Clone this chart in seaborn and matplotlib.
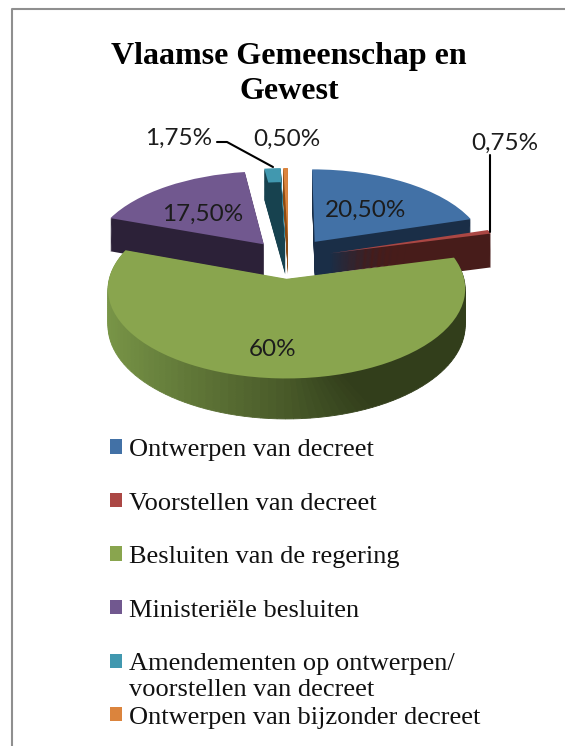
import numpy as np
import seaborn as sns
import matplotlib
matplotlib.use("Agg")
import matplotlib.pyplot as plt
from matplotlib.patches import Patch, Wedge
from matplotlib.transforms import Transform

# data
categories = ["Ontwerpen van decreet", "Voorstellen van decreet", "Besluiten van de regering",
              "Ministeriële besluiten", "Amendementen op ontwerpen/", "Ontwerpen van bijzonder decreet"]
shares = [20.5, 0.75, 60, 17.5, 1.75, 0.5]
share_labels = ["20,50%", "0,75%", "60%", "17,50%", "1,75%", "0,50%"]
top_colors = ["#4271a6", "#ab4744", "#89a54e", "#71588f", "#4198af", "#db843d"]
wall_colors = ["#1a2e47", "#471c1a", "#3a4a20", "#2c2138", "#17424f", "#8a4a12"]

sns.set_theme(style="white")
plt.rcParams["font.family"] = ["Liberation Serif", "DejaVu Serif"]


# fake 3d: unit pie -> pixels, with perspective and a drop for the side wall
class Tilt(Transform):
    input_dims = 2
    output_dims = 2
    is_separable = False

    def __init__(self, drop=0):
        super().__init__()
        self.drop = drop

    def transform_non_affine(self, values):
        values = np.asarray(values)
        w = 1 / (1 + 0.11 * values[:, 1])
        px = 288.5 + 173 * values[:, 0] * w
        py = 259 - 84 * values[:, 1] * w + self.drop * w
        return np.column_stack([px, py])


fig = plt.figure(figsize=(5.65, 7.46), dpi=100)
ax = fig.add_axes([0, 0, 1, 1])
explode = [0.26, 0.25, 0.23, 0.23, 0.23, 0.23]
order_z = [3, 4, 6, 2, 1, 0]  # painter's order per slice
GREEN = 2
TEAL = 4


def draw_pie(colors, drop, z):
    wedges, _ = ax.pie(shares, explode=explode, colors=colors, startangle=90, counterclock=False,
                       wedgeprops={"linewidth": 0})
    for i, w in enumerate(wedges):
        w.set_transform(Tilt(drop) + ax.transData)
        w.set_zorder(order_z[i] + z)
    return wedges


# side walls, layer by layer
for drop in range(35, 0, -1):
    layer = draw_pie(wall_colors, drop, 1)
    layer[GREEN].set_visible(False)
    # teal slice: the dark wall covers most of its narrow top
    if drop >= 16:
        layer[TEAL].set_zorder(order_z[TEAL] + 1.8)

top = draw_pie(top_colors, 0, 1.5)

# green wall gets the light to dark shading
g = top[GREEN]
edges = np.linspace(g.theta1, g.theta2, 91)
wall_left = np.array(matplotlib.colors.to_rgb("#7a9748"))
wall_right = np.array(matplotlib.colors.to_rgb("#323e1b"))
for a, b in zip(edges[:-1], edges[1:]):
    mid = np.cos(np.radians((a + b) / 2))
    t = np.clip((mid + 1) / 1.45, 0, 1)
    c = wall_left * (1 - t) + wall_right * t
    for drop in range(1, 37, 2):
        ax.add_patch(Wedge(g.center, g.r, a, b, facecolor=c, edgecolor=c, linewidth=0.6,
                           transform=Tilt(drop) + ax.transData, zorder=order_z[GREEN] + 1))

ax.set_aspect("auto")
ax.set_xlim(0, 565)
ax.set_ylim(746, 0)
ax.set_axis_off()

# outer frame of the slide
ax.plot([12, 12, 565], [746, 8.5, 8.5], color="#8f8f8f", lw=1.5, zorder=1)

# title
ax.text(289, 74, "Vlaamse Gemeenschap en\nGewest", ha="center", va="center", fontsize=23,
        fontweight="bold", color="black", linespacing=1.3)

# data labels
label_xy = [(366, 210), (505, 143), (273, 350), (203, 214), (179, 138), (287, 139)]
for txt, (x, y) in zip(share_labels, label_xy):
    ax.text(x, y, txt, ha="center", va="center", fontsize=17.5, family=["Lato", "DejaVu Sans"],
            color="#1c1c1c", zorder=20)

# leader lines
ax.plot([490, 490], [232, 155], color="black", lw=1.5, zorder=20)
ax.plot([217, 227, 273], [142, 142, 167], color="black", lw=1.5, zorder=20)

# legend
handles = [Patch(facecolor=c, edgecolor="none") for c in top_colors]
ax.legend(handles, categories, loc="upper left", bbox_to_anchor=(110, 439), bbox_transform=ax.transData,
          frameon=False, fontsize=19, labelspacing=1.195, handlelength=0.46, handleheight=0.46,
          handletextpad=0.27, borderpad=0, borderaxespad=0, labelcolor="#111111")
ax.text(129, 690, "voorstellen van decreet", ha="left", va="center", fontsize=19, color="#111111")

fig.savefig("out.png", dpi=100)
